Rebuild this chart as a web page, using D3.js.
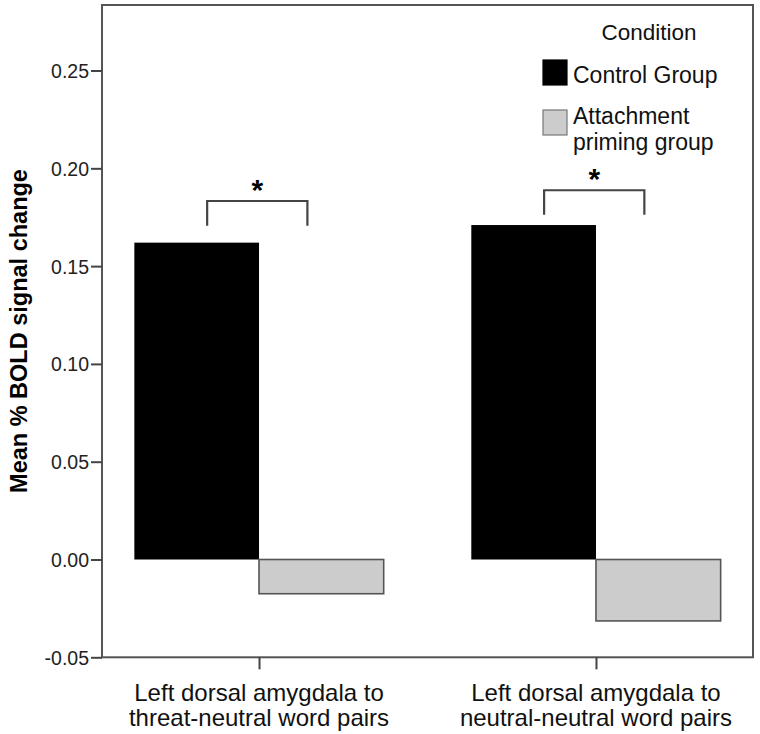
<!DOCTYPE html>
<html>
<head>
<meta charset="utf-8">
<script src="https://cdn.jsdelivr.net/npm/d3@7"></script>
<style>
  html, body { margin: 0; padding: 0; background: #fff; }
  svg { display: block; font-family: "Liberation Sans", Arial, sans-serif; }
</style>
</head>
<body>
<svg id="chart" width="760" height="734"></svg>
<script>
// ---- data ----
const categories = [
  ["Left dorsal amygdala to", "threat-neutral word pairs"],
  ["Left dorsal amygdala to", "neutral-neutral word pairs"]
];
const seriesNames = ["Control Group", "Attachment priming group"];
const legendLabels = [["Control Group"], ["Attachment", "priming group"]];
const controlValues = [0.162, 0.171];
const attachmentValues = [-0.0175, -0.0314];
const yTicks = [-0.05, 0.00, 0.05, 0.10, 0.15, 0.20, 0.25];
const bracketTop = [0.1833, 0.1888];
const bracketLeg = [0.0127, 0.0126];
const legendTitle = "Condition";
const yTitle = "Mean % BOLD signal change";

// ---- layout ----
const svg = d3.select("#chart");
const frame = { left: 102, right: 753, top: 5, bottom: 657.3 };
const colors = ["#000000", "#cccccc"];

const x0 = d3.scaleBand()
  .domain(d3.range(categories.length))
  .range([frame.left, frame.right])
  .paddingInner(0.26)
  .paddingOuter(0.096);
const x1 = d3.scaleBand()
  .domain(d3.range(seriesNames.length))
  .range([0, x0.bandwidth()])
  .padding(0);
const y = d3.scaleLinear()
  .domain([-0.05, 0.2835])
  .range([frame.bottom, frame.top]);

// bars
const series = [controlValues, attachmentValues];
categories.forEach((c, i) => {
  series.forEach((vals, s) => {
    const v = vals[i];
    svg.append("rect")
      .attr("x", x0(i) + x1(s))
      .attr("width", x1.bandwidth())
      .attr("y", y(Math.max(0, v)))
      .attr("height", Math.abs(y(v) - y(0)))
      .attr("fill", colors[s])
      .attr("stroke", s === 0 ? "#000" : "#555")
      .attr("stroke-width", s === 0 ? 0 : 1.6);
  });
});

// frame
svg.append("rect")
  .attr("x", frame.left).attr("y", frame.top)
  .attr("width", frame.right - frame.left)
  .attr("height", frame.bottom - frame.top)
  .attr("fill", "none").attr("stroke", "#555").attr("stroke-width", 2);

// y axis
const fmt = d3.format(".2f");
const yAxis = d3.axisLeft(y).tickValues(yTicks).tickSize(11).tickPadding(2)
  .tickFormat(d => fmt(d).replace("\u2212", "-"));
const gy = svg.append("g").attr("transform", `translate(${frame.left},0)`).call(yAxis);
gy.select(".domain").remove();
gy.selectAll(".tick line").attr("stroke", "#444").attr("stroke-width", 2);
gy.selectAll(".tick text").attr("fill", "#222").style("font-size", "19.5px")
  .attr("dy", "0.36em");

// x axis ticks
const xAxis = d3.axisBottom(d3.scalePoint().domain(d3.range(categories.length))
  .range([x0(0) + x0.bandwidth() / 2, x0(1) + x0.bandwidth() / 2]))
  .tickSize(12).tickFormat("");
const gx = svg.append("g").attr("transform", `translate(0,${frame.bottom})`).call(xAxis);
gx.select(".domain").remove();
gx.selectAll(".tick line").attr("stroke", "#444").attr("stroke-width", 2);

// category labels
categories.forEach((lines, i) => {
  const cx = x0(i) + x0.bandwidth() / 2;
  lines.forEach((t, k) => {
    svg.append("text")
      .attr("x", cx).attr("y", 701 + k * 25)
      .attr("text-anchor", "middle")
      .style("font-size", "24px").attr("fill", "#111")
      .text(t);
  });
});

// y title
svg.append("text")
  .attr("transform", `translate(27,331) rotate(-90)`)
  .attr("text-anchor", "middle")
  .style("font-size", "23.5px").style("font-weight", "bold").attr("fill", "#000")
  .text(yTitle);

// significance brackets
categories.forEach((c, i) => {
  const xa = x0(i) + x0.bandwidth() * 0.292;
  const xb = x0(i) + x0.bandwidth() * 0.694;
  const yt = y(bracketTop[i]);
  const yb = y(bracketTop[i] - bracketLeg[i]);
  svg.append("path")
    .attr("d", `M${xa},${yb}V${yt}H${xb}V${yb}`)
    .attr("fill", "none").attr("stroke", "#444").attr("stroke-width", 2.2);
  svg.append("text")
    .attr("x", (xa + xb) / 2).attr("y", yt - 1)
    .attr("text-anchor", "middle")
    .style("font-size", "30px").style("font-weight", "bold").attr("fill", "#000")
    .text("*");
});

// legend
svg.append("text").attr("x", 649).attr("y", 40).attr("text-anchor", "middle")
  .style("font-size", "22.5px").attr("fill", "#111").text(legendTitle);
const legendRows = [
  { sy: 60, ty: 83 },
  { sy: 110, ty: 124 }
];
legendRows.forEach((r, s) => {
  svg.append("rect").attr("x", 543).attr("y", r.sy).attr("width", 24).attr("height", 25)
    .attr("fill", colors[s]).attr("stroke", s === 0 ? "#000" : "#777").attr("stroke-width", 1.2);
  legendLabels[s].forEach((t, k) => {
    svg.append("text").attr("x", 573).attr("y", r.ty + k * 25.5)
      .style("font-size", "23px").attr("fill", "#111").text(t);
  });
});
</script>
</body>
</html>
